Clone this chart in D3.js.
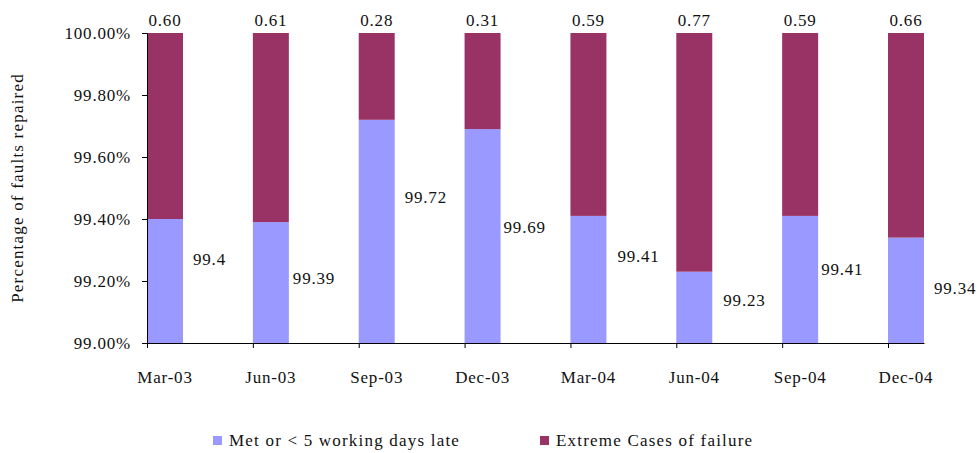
<!DOCTYPE html>
<html>
<head>
<meta charset="utf-8">
<script src="https://cdn.jsdelivr.net/npm/d3@7"></script>
<style>
	body { margin: 0; background: #fff; }
	svg text { font-family: "Liberation Serif", "Times New Roman", "DejaVu Serif", serif; font-size: 17px; letter-spacing: 0.8px; fill: #111; }
	svg text.wide { letter-spacing: 1.2px; }
</style>
</head>
<body>
<div id="chart"></div>
<script>
/***************************************************************************/
/********************************************************** DONNEES ******/
/***************************************************************************/

const categories = ["Mar-03", "Jun-03", "Sep-03", "Dec-03", "Mar-04", "Jun-04", "Sep-04", "Dec-04"];
const metValues = [99.4, 99.39, 99.72, 99.69, 99.41, 99.23, 99.41, 99.34];
const extremeValues = [0.60, 0.61, 0.28, 0.31, 0.59, 0.77, 0.59, 0.66];
const yTicks = [99.0, 99.2, 99.4, 99.6, 99.8, 100.0];
const seriesNames = ["Met or < 5 working days late", "Extreme Cases of failure"];

// placement des étiquettes "met" (décalage depuis la barre, hauteur en unités de l'axe)
const labelDx = [10, 4, 10, 3, 11, 11, 3, 10];
const labelAt = [99.271, 99.21, 99.471, 99.374, 99.281, 99.139, 99.239, 99.177];

/***************************************************************************/
/*********************************************************** CARTE *******/
/***************************************************************************/

const width = 980, height = 453;
const colors = ["#9999ff", "#993366"];

const svg = d3.select("#chart")
	.append("svg")
	.attr("width", width)
	.attr("height", height);

const x = d3.scaleBand()
	.domain(categories)
	.range([147, 924])
	.paddingInner(0.66)
	.paddingOuter(0)
	.align(0);

const y = d3.scaleLinear()
	.domain([99, 100])
	.range([343, 33])
	.clamp(true);

const rows = categories.map(function(c, i) {
	return {cat: c, met: metValues[i], extreme: extremeValues[i]};
});
const stacked = d3.stack().keys(["met", "extreme"])(rows);

const bars = svg.append("g");
bars.selectAll("g")
	.data(stacked)
	.enter()
	.append("g")
	.attr("fill", function(d, i) { return colors[i]; })
	.selectAll("rect")
	.data(function(d) { return d; })
	.enter()
	.append("rect")
	.attr("x", function(d) { return x(d.data.cat); })
	.attr("width", x.bandwidth())
	.attr("y", function(d) { return y(d[1]); })
	.attr("height", function(d) { return y(d[0]) - y(d[1]); });

// axe Y
const yAxis = svg.append("g")
	.attr("transform", "translate(147,0)")
	.call(d3.axisLeft(y)
		.tickValues(yTicks)
		.tickFormat(function(d) { return d.toFixed(2) + "%"; })
		.tickSize(5)
		.tickSizeOuter(0)
		.tickPadding(11));
yAxis.attr("font-family", null).attr("font-size", null);
yAxis.select(".domain").attr("stroke", "#000");

// axe X
const xAxis = svg.append("g")
	.attr("transform", "translate(0,343)")
	.call(d3.axisBottom(x)
		.tickSize(0)
		.tickSizeOuter(0)
		.tickPadding(28));
xAxis.attr("font-family", null).attr("font-size", null);
xAxis.select(".domain").attr("stroke", "#000");

xAxis.selectAll("line.cut")
	.data(categories)
	.enter()
	.append("line")
	.attr("class", "cut")
	.attr("x1", function(d) { return x(d) + 0.5; })
	.attr("x2", function(d) { return x(d) + 0.5; })
	.attr("y1", 0)
	.attr("y2", 5)
	.attr("stroke", "#000");

// titre de l'axe Y
svg.append("text")
	.attr("class", "wide")
	.attr("transform", "translate(23,188) rotate(-90)")
	.style("text-anchor", "middle")
	.text("Percentage of faults repaired");

// étiquettes en haut des barres
svg.append("g").selectAll("text")
	.data(rows)
	.enter()
	.append("text")
	.attr("x", function(d) { return x(d.cat) + x.bandwidth() / 2; })
	.attr("y", function(d) { return y(d.met + d.extreme) - 7; })
	.style("text-anchor", "middle")
	.text(function(d) { return d.extreme.toFixed(2); });

// étiquettes de la série "met"
svg.append("g").selectAll("text")
	.data(rows)
	.enter()
	.append("text")
	.attr("x", function(d, i) { return x(d.cat) + x.bandwidth() + labelDx[i]; })
	.attr("y", function(d, i) { return y(labelAt[i]); })
	.attr("dy", "0.35em")
	.text(function(d) { return String(d.met); });

// légende
const legendX = [213, 540];
const legend = svg.append("g");
legend.selectAll("rect")
	.data(seriesNames)
	.enter()
	.append("rect")
	.attr("x", function(d, i) { return legendX[i]; })
	.attr("y", 436)
	.attr("width", 9)
	.attr("height", 9)
	.attr("fill", function(d, i) { return colors[i]; });
legend.selectAll("text")
	.data(seriesNames)
	.enter()
	.append("text")
	.attr("class", "wide")
	.attr("x", function(d, i) { return legendX[i] + 16; })
	.attr("y", 446)
	.text(function(d) { return d; });
</script>
</body>
</html>
